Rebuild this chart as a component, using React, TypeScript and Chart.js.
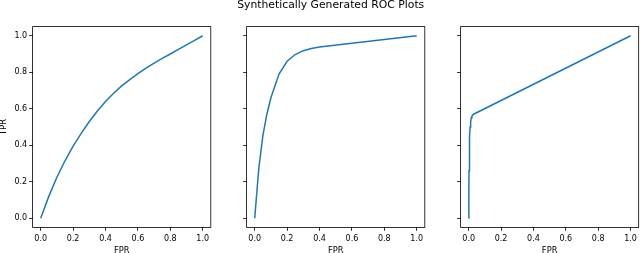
import React, { useEffect, useRef } from 'react';
import { Chart, registerables } from 'chart.js';

Chart.register(...registerables);

const TITLE = 'Synthetically Generated ROC Plots';
const X_LABEL = 'FPR';
const Y_LABEL = 'TPR';
const TICK_VALUES = [0, 0.2, 0.4, 0.6, 0.8, 1.0];

const fpr1 = [0, 0.05, 0.1, 0.15, 0.2, 0.25, 0.3, 0.35, 0.4, 0.45, 0.5, 0.55, 0.6, 0.65, 0.7, 0.75, 0.8, 0.85, 0.9, 0.95, 1.0];
const tpr1 = [0, 0.12, 0.225, 0.315, 0.395, 0.465, 0.53, 0.588, 0.64, 0.685, 0.725, 0.76, 0.792, 0.822, 0.85, 0.876, 0.9, 0.925, 0.95, 0.975, 1.0];

const fpr2 = [0, 0.025, 0.05, 0.075, 0.1, 0.15, 0.2, 0.25, 0.3, 0.35, 0.4, 1.0];
const tpr2 = [0, 0.27, 0.45, 0.57, 0.66, 0.79, 0.86, 0.897, 0.918, 0.93, 0.938, 1.0];

const fpr3 = [0, 0.001, 0.002, 0.004, 0.006, 0.009, 0.012, 0.016, 0.02, 0.025, 0.03, 1.0];
const tpr3 = [0, 0.15, 0.26, 0.38, 0.45, 0.5, 0.53, 0.55, 0.56, 0.566, 0.57, 1.0];

const SERIES = [
  { fpr: fpr1, tpr: tpr1 },
  { fpr: fpr2, tpr: tpr2 },
  { fpr: fpr3, tpr: tpr3 },
];

// geometry of each panel (plot-area box in page pixels)
const W = 640;
const H = 253;
const PANEL_LEFTS = [32.6, 246.6, 460.6];
const PANEL_WIDTH = 178.2;
const PLOT_TOP = 26.6;
const PLOT_BOTTOM = 227.4;

const FONT = 'DejaVu Sans';
const LINE_COLOR = '#1f77b4';

const framePlugin = {
  id: 'frame',
  afterDraw(chart: any) {
    const { ctx, chartArea: a } = chart;
    ctx.save();
    ctx.strokeStyle = '#000';
    ctx.lineWidth = 0.8;
    ctx.strokeRect(a.left, a.top, a.right - a.left, a.bottom - a.top);
    ctx.restore();
  },
};

function makeConfig(i: number): any {
  const first = i === 0;
  const withTitle = i === 1;
  const titleSize = 10.8;
  const titleLH = 1.0;
  const titleH = titleSize * titleLH;
  const yAxisW = first ? PANEL_LEFTS[0] : 10;
  const left = PANEL_LEFTS[i];
  const right = left + PANEL_WIDTH;
  const xAxisH = H - PLOT_BOTTOM;
  const { fpr, tpr } = SERIES[i];

  const tickFmt = (v: any) => Number(v).toFixed(1);
  const setTicks = (scale: any) => {
    scale.ticks = TICK_VALUES.map((v) => ({ value: v }));
  };

  return {
    type: 'scatter',
    data: {
      datasets: [
        {
          data: fpr.map((x, k) => ({ x, y: tpr[k] })),
          showLine: true,
          borderColor: LINE_COLOR,
          backgroundColor: LINE_COLOR,
          borderWidth: 1.5,
          pointRadius: 0,
          tension: 0,
          fill: false,
        },
      ],
    },
    options: {
      responsive: false,
      animation: false,
      events: [],
      layout: {
        padding: {
          left: left - yAxisW,
          right: W - right,
          top: withTitle ? 0 : PLOT_TOP,
          bottom: 0,
        },
      },
      plugins: {
        legend: { display: false },
        tooltip: { enabled: false },
        title: {
          display: withTitle,
          text: TITLE,
          color: '#000',
          font: { family: FONT, size: titleSize, weight: 'normal', lineHeight: titleLH },
          padding: { top: 0, bottom: PLOT_TOP - titleH },
        },
      },
      scales: {
        x: {
          type: 'linear',
          min: -0.05,
          max: 1.05,
          afterBuildTicks: setTicks,
          afterFit: (scale: any) => {
            scale.height = xAxisH;
          },
          grid: {
            drawOnChartArea: false,
            drawTicks: true,
            tickLength: 3.5,
            tickWidth: 0.8,
            tickColor: '#000',
          },
          border: { display: false },
          ticks: {
            callback: tickFmt,
            color: '#000',
            padding: 3,
            maxRotation: 0,
            autoSkip: false,
            font: { family: FONT, size: 8 },
          },
          title: {
            display: true,
            text: X_LABEL,
            color: '#000',
            padding: { top: 0, bottom: -1.5 },
            font: { family: FONT, size: 8.3, lineHeight: 1 },
          },
        },
        y: {
          type: 'linear',
          min: -0.05,
          max: 1.05,
          afterBuildTicks: setTicks,
          afterFit: (scale: any) => {
            scale.width = yAxisW;
          },
          grid: {
            drawOnChartArea: false,
            drawTicks: true,
            tickLength: 3.5,
            tickWidth: 0.8,
            tickColor: '#000',
          },
          border: { display: false },
          ticks: {
            display: first,
            callback: tickFmt,
            color: '#000',
            padding: 2,
            autoSkip: false,
            font: { family: FONT, size: 8 },
          },
          title: {
            display: first,
            text: Y_LABEL,
            color: '#000',
            padding: { top: 0, bottom: 0 },
            font: { family: FONT, size: 8.3, lineHeight: 1 },
          },
        },
      },
    },
    plugins: [framePlugin],
  };
}

export default function App() {
  const refs = [useRef<HTMLCanvasElement>(null), useRef<HTMLCanvasElement>(null), useRef<HTMLCanvasElement>(null)];

  useEffect(() => {
    const charts = refs.map((r, i) => new Chart(r.current as HTMLCanvasElement, makeConfig(i)));
    return () => charts.forEach((c) => c.destroy());
  }, []);

  return (
    <div style={{ position: 'fixed', left: 0, top: 0, width: W, height: H, background: '#fff' }}>
      {refs.map((r, i) => (
        <canvas
          key={i}
          ref={r}
          width={W}
          height={H}
          style={{ position: 'absolute', left: 0, top: 0, width: W, height: H }}
        />
      ))}
    </div>
  );
}
